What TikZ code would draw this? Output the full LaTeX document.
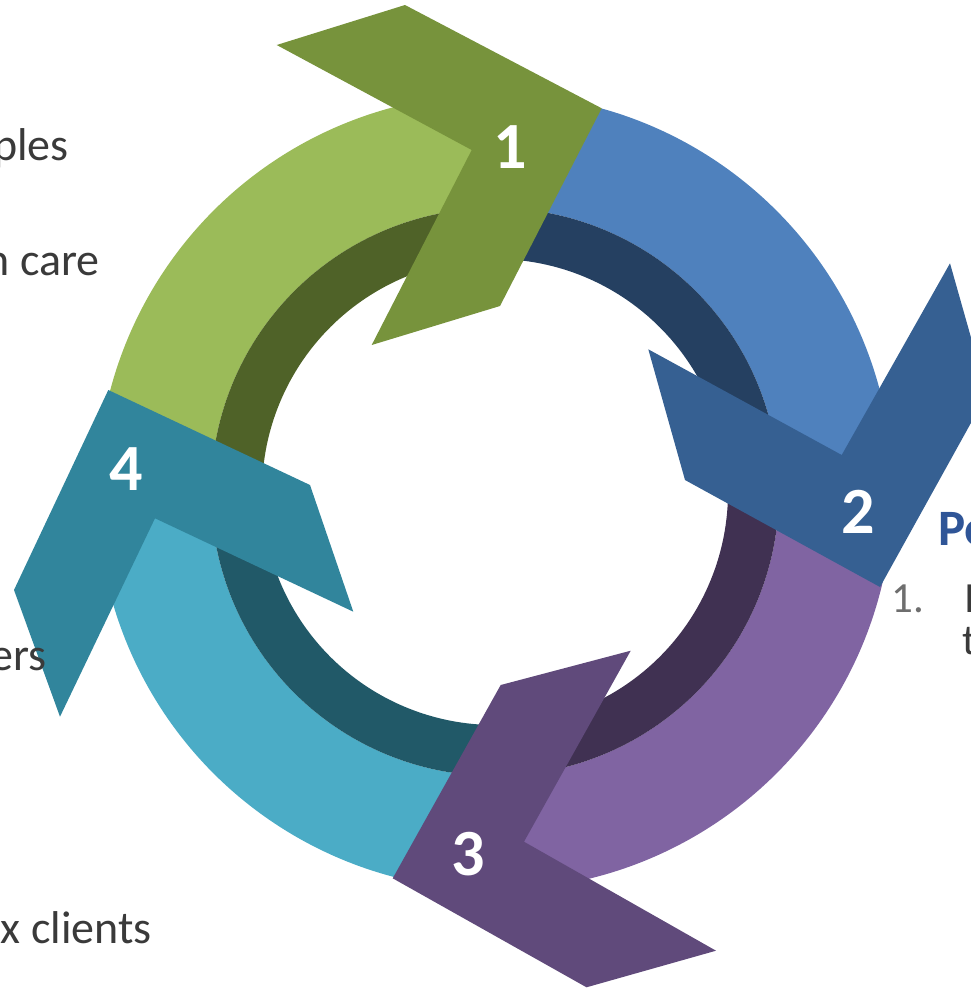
\documentclass[tikz,border=0pt]{standalone}
\usepackage{fontspec}
\setmainfont{Carlito}
\usetikzlibrary{calc}

% ring colours: light outer band, dark inner band, arrow head
\definecolor{grnL}{HTML}{9BBB59}
\definecolor{grnD}{HTML}{4F6228}
\definecolor{grnH}{HTML}{77933C}
\definecolor{bluL}{HTML}{4F81BD}
\definecolor{bluD}{HTML}{254061}
\definecolor{bluH}{HTML}{366092}
\definecolor{purL}{HTML}{8064A2}
\definecolor{purD}{HTML}{403152}
\definecolor{purH}{HTML}{604A7B}
\definecolor{tealL}{HTML}{4BACC6}
\definecolor{tealD}{HTML}{215968}
\definecolor{tealH}{HTML}{31859C}
\definecolor{txtgray}{HTML}{3A3A3A}
\definecolor{listgray}{HTML}{6E6E6E}
\definecolor{headblue}{HTML}{2F5597}

% annular sector: colour, start angle, end angle, inner radius, outer radius
\newcommand\ringpart[5]{%
  \fill[#1] ($(c)+(#2:#5)$) arc[start angle=#2, end angle=#3, radius=#5]
    -- ($(c)+(#3:#4)$) arc[start angle=#3, end angle=#2, radius=#4] -- cycle;}

\begin{document}
\begin{tikzpicture}[x=1pt, y=-1pt,
  num/.style={font=\fontsize{66}{66}\selectfont\bfseries, text=white, inner sep=0pt, anchor=base},
  sidetext/.style={font=\fontsize{46}{46}\selectfont, text=txtgray, inner sep=0pt, anchor=base east},
  listtext/.style={font=\fontsize{43}{43}\selectfont, inner sep=0pt, anchor=base west}]
\useasboundingbox (0,0) rectangle (971,988);
\clip (0,0) rectangle (971,988);

\coordinate (c) at (495,492);

% ring bands (angles measured with the y axis pointing down)
\ringpart{grnL}{-179}{-88}{284}{398}
\ringpart{grnD}{-179}{-88}{233}{284}
\ringpart{bluL}{-88}{-2}{284}{398}
\ringpart{bluD}{-88}{-2}{233}{284}
\ringpart{purL}{-2}{89}{284}{398}
\ringpart{purD}{-2}{89}{233}{284}
\ringpart{tealL}{89}{181}{284}{398}
\ringpart{tealD}{89}{181}{233}{284}

% chevron heads
\fill[grnH] (276.7,45) -- (405,5) -- (601.7,108.3) -- (500,306) -- (371.7,345) -- (471.7,150) -- cycle;
\fill[bluH] (648.3,349.3) -- (841.7,455) -- (950,263.3) -- (987,394) -- (880,587) -- (685,480) -- cycle;
\fill[purH] (630.7,650.7) -- (500.7,685) -- (392.7,878.3) -- (586.5,987.3) -- (716,950.7) -- (524,841.7) -- cycle;
\fill[tealH] (108.3,390) -- (310,485) -- (353.3,611.7) -- (155,518.3) -- (60,716.7) -- (14,590) -- cycle;

% step numbers
\node[num] (n1) at (510,168.3) {1};
\node[num] (n2) at (858,533) {2};
\node[num] (n3) at (468.7,875) {3};
\node[num] (n4) at (125.8,490) {4};

% side texts
\node[sidetext] (t1) at (69,160) {ples};
\node[sidetext] (t2) at (100,275) {n care};
\node[sidetext] (t3) at (47,670) {ers};
\node[sidetext] (t4) at (152,943) {x clients};

\node[font=\fontsize{51}{51}\selectfont\bfseries, text=headblue, inner sep=0pt, anchor=base west] (h1) at (938,545) {Po};
\node[listtext, text=listgray] (l1) at (891,612) {1.};
\node[listtext, text=txtgray] (l2) at (964,612) {I};
\node[listtext, text=txtgray] (l3) at (962,654) {t};
\end{tikzpicture}
\end{document}
